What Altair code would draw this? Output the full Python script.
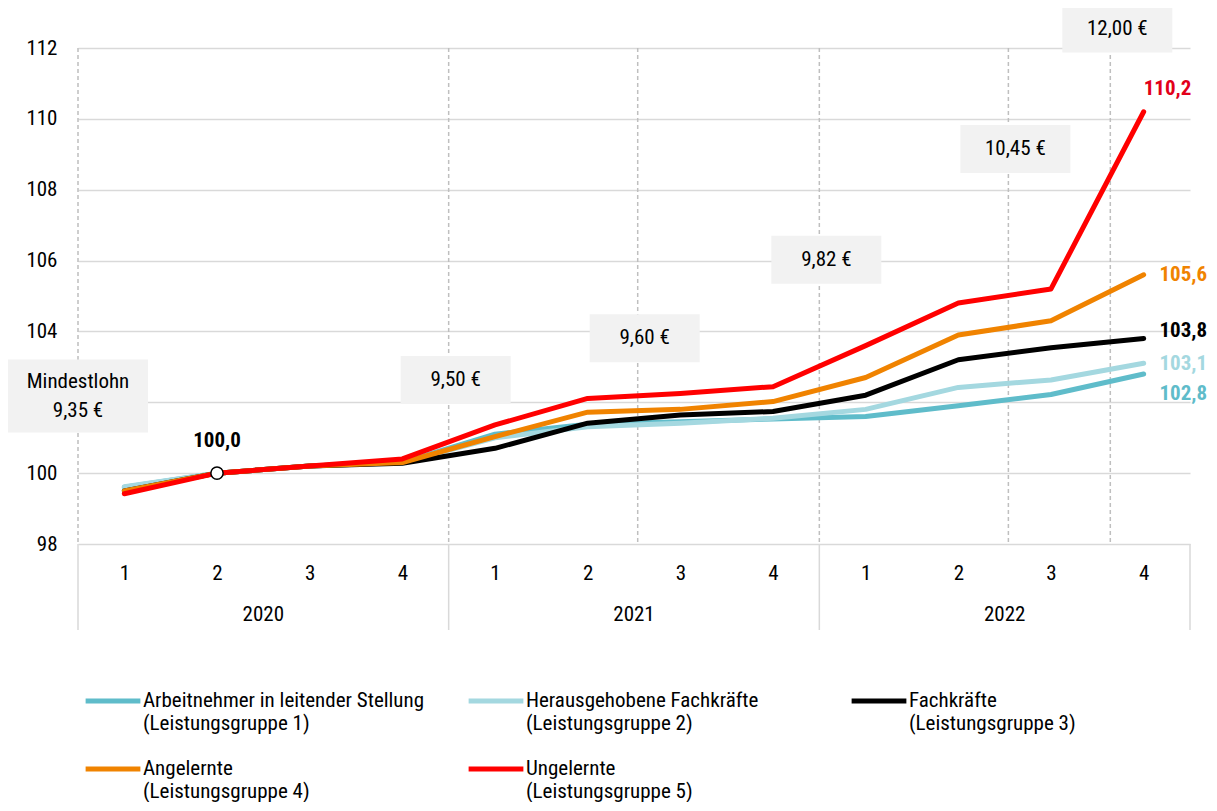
import altair as alt
import pandas as pd

FONT = "Liberation Sans Narrow, Arial Narrow, Roboto Condensed, sans-serif"
FS = 21

# ---------------- data ----------------
quarter_idx = list(range(12))
quarter_labels = ["1", "2", "3", "4"] * 3
years = ["2020", "2021", "2022"]
year_center = [1.5, 5.5, 9.5]
year_bounds = [-0.5, 3.5, 7.5, 11.5]

series_names = [
    "Arbeitnehmer in leitender Stellung|(Leistungsgruppe 1)",
    "Herausgehobene Fachkräfte|(Leistungsgruppe 2)",
    "Fachkräfte|(Leistungsgruppe 3)",
    "Angelernte|(Leistungsgruppe 4)",
    "Ungelernte|(Leistungsgruppe 5)",
]
series_colors = ["#5FBCCA", "#A4D8E0", "#000000", "#F08300", "#FF0000"]

lg1 = [99.60, 100.0, 100.20, 100.30, 101.10, 101.38, 101.45, 101.53, 101.60, 101.90, 102.22, 102.8]
lg2 = [99.62, 100.0, 100.20, 100.30, 101.00, 101.31, 101.41, 101.55, 101.80, 102.42, 102.63, 103.1]
lg3 = [99.50, 100.0, 100.20, 100.28, 100.70, 101.41, 101.64, 101.74, 102.20, 103.20, 103.54, 103.8]
lg4 = [99.50, 100.0, 100.20, 100.30, 101.03, 101.72, 101.80, 102.02, 102.70, 103.90, 104.30, 105.6]
lg5 = [99.42, 100.0, 100.20, 100.40, 101.36, 102.11, 102.25, 102.44, 103.60, 104.80, 105.20, 110.2]
all_series = [lg1, lg2, lg3, lg4, lg5]

# end-of-line value labels
end_text = ["102,8", "103,1", "103,8", "105,6", "110,2"]
end_label_x = [11.17, 11.17, 11.17, 11.17, 11.0]
end_label_y = [102.22, 103.08, 104.0, 105.58, 110.85]
end_label_colors = ["#5FBCCA", "#A4D8E0", "#000000", "#F08300", "#E2001A"]

# base point
base_x = [1]
base_y = [100.0]
base_text = ["100,0"]

# minimum wage changes
wage_x = [3.5, 5.54, 7.5, 9.54, 10.64]
wage_text = ["9,50 €", "9,60 €", "9,82 €", "10,45 €", "12,00 €"]
wage_box_y = [102.63, 103.81, 106.02, 109.15, 112.55]
wage_lines_x = [-0.5] + wage_x
start_x = [-0.5]
start_y = [102.18]
start_text = ["Mindestlohn\n9,35 €"]

y_ticks = [98, 100, 102, 104, 106, 108, 110, 112]

# ---------------- tables ----------------
rows = []
for name, vals in zip(series_names, all_series):
    for q, v in zip(quarter_idx, vals):
        rows.append({"series": name, "q": q, "value": v})
df = pd.DataFrame(rows)

df_end = pd.DataFrame({"x": end_label_x, "y": end_label_y, "text": end_text, "color": end_label_colors})
df_base = pd.DataFrame({"x": base_x, "y": base_y, "text": base_text})
df_wage = pd.DataFrame({"x": wage_x, "y": wage_box_y, "text": wage_text})
df_wlines = pd.DataFrame({"x": wage_lines_x})
df_start = pd.DataFrame({"x": start_x, "y": start_y, "text": start_text})
df_years = pd.DataFrame({"x": year_center, "text": years})
df_bounds = pd.DataFrame({"x": year_bounds})

W, H = 1112, 496

xscale = alt.Scale(domain=[-0.5, 11.5], nice=False, zero=False)
yscale = alt.Scale(domain=[98, 112], nice=False, zero=False)

x_axis = alt.Axis(
    values=quarter_idx,
    labelExpr="'' + (datum.value % 4 + 1)",
    title=None, grid=False, ticks=False, domain=False,
    labelFont=FONT, labelFontSize=FS, labelColor="#000000", labelPadding=18,
)
y_axis = alt.Axis(
    values=y_ticks, title=None, ticks=False, domain=False,
    labelFont=FONT, labelFontSize=FS, labelColor="#000000", labelPadding=21,
    grid=True, gridColor="#D9D9D9", gridWidth=1.5,
)

base = alt.Chart(df).mark_line(strokeWidth=5, strokeCap="round", strokeJoin="round").encode(
    x=alt.X("q:Q", scale=xscale, axis=x_axis),
    y=alt.Y("value:Q", scale=yscale, axis=y_axis),
    color=alt.Color(
        "series:N",
        scale=alt.Scale(domain=series_names, range=series_colors),
        sort=series_names,
        legend=alt.Legend(
            title=None, orient="none", legendX=5, legendY=623, direction="horizontal",
            columns=3, gridAlign="all", columnPadding=33, rowPadding=5,
            symbolType="stroke", symbolSize=3000, symbolStrokeWidth=5,
            labelFont=FONT, labelFontSize=FS, labelColor="#000000",
            labelExpr="split(datum.label, '|')",
            labelBaseline="middle",
            labelOffset=0, labelLimit=400, padding=0,
        ),
    ),
    order=alt.Order("series:N"),
    detail="series:N",
)

wage_lines = alt.Chart(df_wlines).mark_rule(color="#BFBFBF", strokeWidth=1.5, strokeDash=[4, 3]).encode(
    x=alt.X("x:Q", scale=xscale), y=alt.value(0), y2=alt.value(H)
)
bounds = alt.Chart(df_bounds).mark_rule(color="#D9D9D9", strokeWidth=1.5).encode(
    x=alt.X("x:Q", scale=xscale), y=alt.value(H), y2=alt.value(H + 86)
)
year_text = alt.Chart(df_years).mark_text(font=FONT, fontSize=FS, color="#000000").encode(
    x=alt.X("x:Q", scale=xscale), y=alt.value(H + 71), text="text:N"
)
wage_boxes = alt.Chart(df_wage).mark_rect(width=110, height=48, color="#F2F2F2", xOffset=7).encode(
    x=alt.X("x:Q", scale=xscale), y=alt.Y("y:Q", scale=yscale)
)
wage_labels = alt.Chart(df_wage).mark_text(font=FONT, fontSize=FS, color="#000000", dx=7).encode(
    x=alt.X("x:Q", scale=xscale), y=alt.Y("y:Q", scale=yscale), text="text:N"
)
start_box = alt.Chart(df_start).mark_rect(width=140, height=73, color="#F2F2F2").encode(
    x=alt.X("x:Q", scale=xscale), y=alt.Y("y:Q", scale=yscale)
)
start_label = alt.Chart(df_start).mark_text(
    font=FONT, fontSize=FS, color="#000000", lineBreak="\n", lineHeight=29, dy=-14
).encode(x=alt.X("x:Q", scale=xscale), y=alt.Y("y:Q", scale=yscale), text="text:N")

base_point = alt.Chart(df_base).mark_point(
    filled=True, fill="#FFFFFF", stroke="#000000", strokeWidth=1.5, size=150, opacity=1
).encode(x=alt.X("x:Q", scale=xscale), y=alt.Y("y:Q", scale=yscale))
base_label = alt.Chart(df_base).mark_text(
    font=FONT, fontSize=FS, fontWeight="bold", color="#000000", dy=-32
).encode(x=alt.X("x:Q", scale=xscale), y=alt.Y("y:Q", scale=yscale), text="text:N")

end_labels = alt.Chart(df_end).mark_text(
    font=FONT, fontSize=FS, fontWeight="bold", align="left"
).encode(
    x=alt.X("x:Q", scale=xscale), y=alt.Y("y:Q", scale=yscale), text="text:N",
    color=alt.Color("color:N", scale=None),
)

chart = alt.layer(
    wage_lines, bounds, year_text, wage_boxes, wage_labels, start_box, start_label,
    base, base_point, base_label, end_labels,
).properties(
    width=W, height=H, padding={"left": 0, "top": -4, "right": 0, "bottom": 0},
).configure_view(stroke=None).resolve_scale(color="independent")

chart.save("out.html", embed_options={"renderer": "svg", "actions": False})
